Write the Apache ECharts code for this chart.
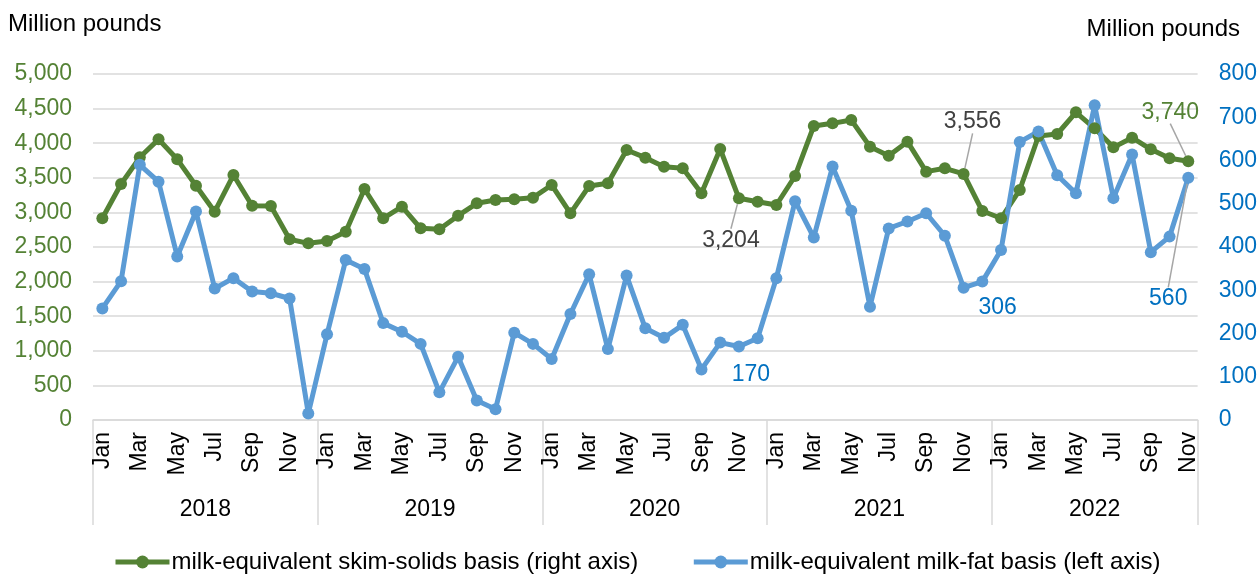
<!DOCTYPE html>
<html>
<head>
<meta charset="utf-8">
<script src="https://cdn.jsdelivr.net/npm/echarts@6/dist/echarts.min.js"></script>
<style>
html, body { margin: 0; padding: 0; background: #fff; }
#chartView { width: 1260px; height: 576px; }
</style>
</head>
<body>
<div id="chartView"></div>
<script>
// categories
var monthNames = ['Jan','Feb','Mar','Apr','May','Jun','Jul','Aug','Sep','Oct','Nov','Dec'];
var years = ['2018','2019','2020','2021','2022'];
var yearMonths = [12, 12, 12, 12, 11];

// milk-equivalent skim-solids basis, million pounds (drawn on left axis)
var skimSolids = [
	2915, 3410, 3796, 4056, 3767, 3386, 3010, 3540, 3097, 3092, 2611, 2553,
	2587, 2721, 3338, 2914, 3083, 2770, 2756, 2953, 3131, 3179, 3189, 3213,
	3396, 2987, 3382, 3420, 3902, 3791, 3661, 3637, 3276, 3916, 3204, 3155,
	3107, 3526, 4249, 4287, 4335, 3950, 3820, 4022, 3589, 3637, 3556, 3020,
	2915, 3324, 4104, 4133, 4446, 4215, 3940, 4080, 3912, 3782, 3740
];
// milk-equivalent milk-fat basis, million pounds (drawn on right axis)
var milkFat = [
	258, 321, 590, 551, 378, 482, 304, 328, 297, 293, 281, 15,
	198, 370, 349, 224, 204, 176, 64, 146, 45, 25, 202, 176,
	141, 245, 337, 164, 334, 212, 190, 220, 117, 179, 170, 189,
	328, 506, 422, 586, 484, 262, 443, 459, 478, 426, 306, 320,
	393, 643, 667, 566, 524, 728, 513, 614, 388, 424, 560
];

var leftTicks = { min: 0, max: 5000, interval: 500 };
var rightTicks = { min: 0, max: 800, interval: 100 };

var seriesNames = [
	'milk-equivalent skim-solids basis (right axis)',
	'milk-equivalent milk-fat basis (left axis)'
];

// annotated points: series, month index
var notes = [
	{ s: 0, i: 34, dx: -8, dy: 42, color: '#404040', line: true },
	{ s: 1, i: 34, dx: 12, dy: 28, color: '#0070C0', line: false },
	{ s: 0, i: 46, dx: 9, dy: -52, color: '#404040', line: true },
	{ s: 1, i: 46, dx: 34, dy: 20, color: '#0070C0', line: false },
	{ s: 0, i: 58, dx: -18, dy: -49, color: '#548235', line: true },
	{ s: 1, i: 58, dx: -20, dy: 121, color: '#0070C0', line: true }
];

var green = '#548235';
var blue = '#5B9BD5';
var font = "'Liberation Sans', Arial, sans-serif";

function fmt(v){
	return String(v).replace(/\B(?=(\d{3})+(?!\d))/g, ',');
}

// month categories and year edges/centers
var months = [];
var yearEdges = [0];
var yearCenters = [];
for (var y = 0; y < years.length; y++) {
	for (var m = 0; m < yearMonths[y]; m++) {
		months.push(monthNames[m]);
	}
	var start = yearEdges[yearEdges.length - 1];
	yearEdges.push(start + yearMonths[y]);
	yearCenters.push(start + yearMonths[y] / 2);
}

function findNote(s, i){
	for (var k = 0; k < notes.length; k++) {
		if (notes[k].s == s && notes[k].i == i) return notes[k];
	}
	return null;
}

function buildData(values, s){
	var out = [];
	for (var i = 0; i < values.length; i++) {
		var n = findNote(s, i);
		if (n) {
			out.push({
				value: values[i],
				label: { show: true, color: n.color },
				labelLine: { show: n.line }
			});
		} else {
			out.push(values[i]);
		}
	}
	return out;
}

function noteLayout(s){
	return function(params){
		var n = findNote(s, params.dataIndex);
		if (!n) return {};
		return { dx: n.dx, dy: n.dy };
	};
}

var myChart = echarts.init(document.getElementById('chartView'));

var option = {
	animation: false,
	textStyle: { fontFamily: font },
	grid: { left: 93, right: 62, top: 74, bottom: 156, containLabel: false },
	graphic: [
		{ type: 'text', left: 8, top: 12, style: { text: 'Million pounds', fontSize: 24, fill: '#000', fontFamily: font } },
		{ type: 'text', right: 20, top: 17, style: { text: 'Million pounds', fontSize: 24, fill: '#000', fontFamily: font } }
	],
	legend: {
		top: 550,
		left: 113,
		padding: 0,
		itemWidth: 54,
		itemHeight: 16,
		itemGap: 53,
		textStyle: { fontSize: 24, color: '#000', padding: [0, 0, 0, -3] },
		lineStyle: { width: 5 },
		data: seriesNames
	},
	xAxis: [
		{
			type: 'category',
			data: months,
			boundaryGap: true,
			position: 'bottom',
			axisLine: { lineStyle: { color: '#D9D9D9', width: 1.5 } },
			axisTick: { show: false },
			axisLabel: { rotate: 90, interval: 1, fontSize: 23, color: '#000', margin: 12 }
		},
		{
			type: 'value',
			min: 0,
			max: months.length,
			position: 'bottom',
			axisLine: { show: false },
			splitLine: { show: false },
			axisTick: {
				show: true,
				length: 105,
				customValues: yearEdges,
				lineStyle: { color: '#D9D9D9', width: 1.5 }
			},
			axisLabel: {
				customValues: yearCenters,
				fontSize: 23,
				color: '#000',
				margin: 78,
				formatter: function(v){
					for (var k = 0; k < yearCenters.length; k++) {
						if (Math.abs(yearCenters[k] - v) < 0.01) return years[k];
					}
					return '';
				}
			}
		}
	],
	yAxis: [
		{
			type: 'value',
			min: leftTicks.min, max: leftTicks.max, interval: leftTicks.interval,
			axisLine: { show: false },
			axisTick: { show: false },
			splitLine: { lineStyle: { color: '#D9D9D9', width: 1.5 } },
			axisLabel: { fontSize: 23, color: green, margin: 21, formatter: fmt }
		},
		{
			type: 'value',
			position: 'right',
			min: rightTicks.min, max: rightTicks.max, interval: rightTicks.interval,
			axisLine: { show: false },
			axisTick: { show: false },
			splitLine: { show: false },
			axisLabel: { fontSize: 23, color: '#0070C0', margin: 21 }
		}
	],
	series: [
		{
			name: seriesNames[0],
			type: 'line',
			xAxisIndex: 0,
			yAxisIndex: 0,
			data: buildData(skimSolids, 0),
			color: green,
			symbol: 'circle',
			symbolSize: 12,
			lineStyle: { width: 5 },
			label: { show: false, position: 'inside', fontSize: 23, formatter: function(p){ return fmt(p.value); } },
			labelLine: { show: true, lineStyle: { color: '#A6A6A6', width: 1.5 } },
			labelLayout: noteLayout(0)
		},
		{
			name: seriesNames[1],
			type: 'line',
			xAxisIndex: 0,
			yAxisIndex: 1,
			data: buildData(milkFat, 1),
			color: blue,
			symbol: 'circle',
			symbolSize: 12,
			lineStyle: { width: 5 },
			label: { show: false, position: 'inside', fontSize: 23, formatter: function(p){ return fmt(p.value); } },
			labelLine: { show: true, lineStyle: { color: '#A6A6A6', width: 1.5 } },
			labelLayout: noteLayout(1)
		}
	]
};

myChart.setOption(option);
</script>
</body>
</html>
